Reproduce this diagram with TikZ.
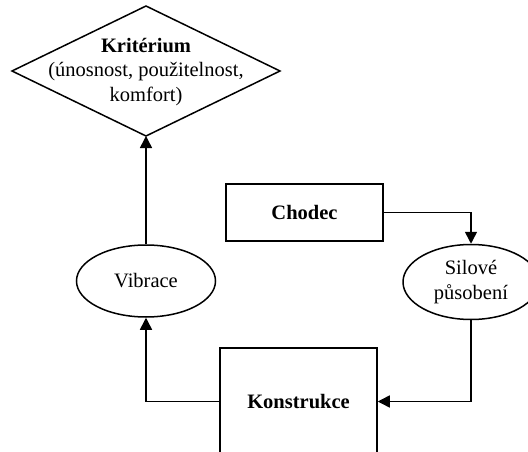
\documentclass[tikz,border=0pt]{standalone}
\usepackage{fontspec}
\setmainfont{Liberation Serif}
\usetikzlibrary{shapes.geometric,arrows.meta}
\begin{document}
\begin{tikzpicture}[x=1pt,y=-1pt,
  every node/.style={font=\fontsize{20.5}{24.5}\selectfont, align=center},
  box/.style={draw, line width=1.5pt, rectangle, inner sep=0pt},
  oval/.style={draw, line width=1.5pt, ellipse, inner sep=0pt},
  link/.style={line width=1.5pt, -{Triangle[length=12pt,width=12pt]}}]
  \useasboundingbox (0,0) rectangle (528,452);

  % decision diamond with the criteria
  \draw[line width=1.5pt] (146,6) -- (280,71) -- (146,136) -- (12,71) -- cycle;
  \coordinate (kbot) at (146,136);
  \node (krit) at (146,72) {\textbf{Kritérium}\\(únosnost, použitelnost,\\komfort)};

  % blocks
  \node[box, minimum width=157pt, minimum height=57pt] (chodec) at (304.5,212.5) {\textbf{Chodec}};
  \node[oval, minimum width=136pt, minimum height=75pt] (sil) at (471,282) {Silové\\působení};
  \node[oval, minimum width=139pt, minimum height=72pt] (vib) at (146,281) {Vibrace};
  \node[box, minimum width=157pt, minimum height=107pt] (kon) at (298.5,401.5) {\textbf{Konstrukce}};

  % connectors
  \draw[link] (chodec.east) -| (sil.north);
  \draw[link] (sil.south) |- (kon.east);
  \draw[link] (kon.west) -| (vib.south);
  \draw[link] (vib.north) -- (kbot);
\end{tikzpicture}
\end{document}
